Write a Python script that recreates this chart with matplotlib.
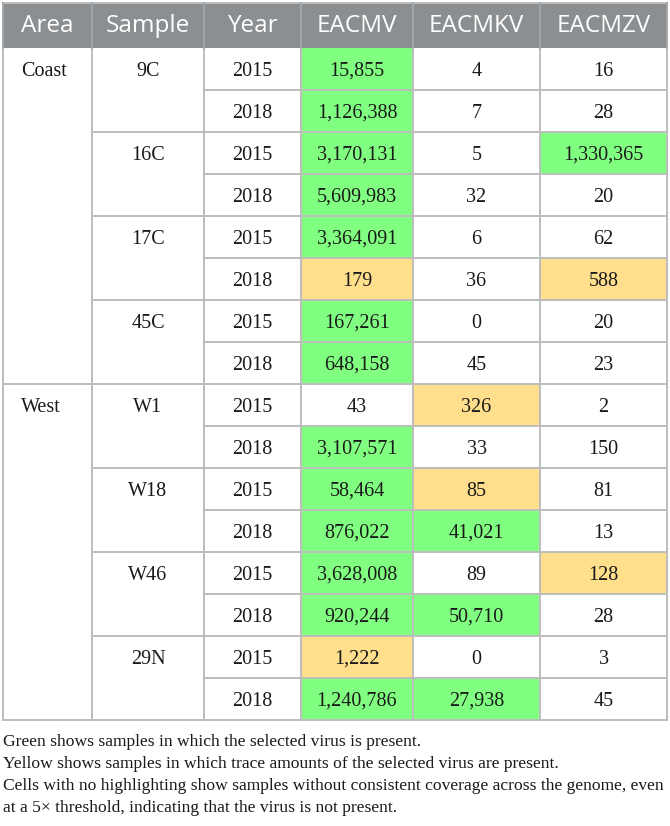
import matplotlib
matplotlib.use("Agg")
import matplotlib.pyplot as plt
from matplotlib.patches import Rectangle

# table data
columns = ["Area", "Sample", "Year", "EACMV", "EACMKV", "EACMZV"]
areas = ["Coast", "West"]
samples = ["9C", "16C", "17C", "45C", "W1", "W18", "W46", "29N"]
years = ["2015", "2018"]

eacmv = [15855, 1126388, 3170131, 5609983, 3364091, 179, 167261, 648158,
         43, 3107571, 58464, 876022, 3628008, 920244, 1222, 1240786]
eacmkv = [4, 7, 5, 32, 6, 36, 0, 45,
          326, 33, 85, 41021, 89, 50710, 0, 27938]
eacmzv = [16, 28, 1330365, 20, 62, 588, 20, 23,
          2, 150, 81, 13, 128, 28, 3, 45]

# G = present (green), Y = trace (yellow), blank = not present
eacmv_status = "GGGGGYGG" + " GGGGGYG"
eacmkv_status = "        " + "Y YG G G"
eacmzv_status = "  G  Y  " + "    Y   "

notes = [
    "Green shows samples in which the selected virus is present.",
    "Yellow shows samples in which trace amounts of the selected virus are present.",
    "Cells with no highlighting show samples without consistent coverage across the genome, even",
    "at a 5\u00d7 threshold, indicating that the virus is not present.",
]

# layout (pixels)
col_x = [3, 92, 204, 301, 413, 540, 667]
top, head_bot, row_h = 3, 48, 42
n_rows = len(eacmv)
bottom = head_bot + n_rows * row_h

fill = {"G": "#80ff80", "Y": "#ffdf8c"}
line_c = "#bdbdbd"
head_c = "#8b8f92"
serif = ["Liberation Serif", "DejaVu Serif"]
body_fs = 14.5
txt_c = "#1a1a1a"

fig = plt.figure(figsize=(6.70, 8.26), dpi=100)
ax = fig.add_axes([0, 0, 1, 1])
ax.set_xlim(0, 670)
ax.set_ylim(826, 0)
ax.axis("off")

# header
ax.add_patch(Rectangle((col_x[0], top), col_x[-1] - col_x[0], head_bot - top,
                       facecolor=head_c, edgecolor="none"))
for i, name in enumerate(columns):
    cx = (col_x[i] + col_x[i + 1]) / 2
    ax.text(cx, (top + head_bot) / 2 + 1, name, ha="center", va="center",
            color="white", fontsize=17.5, family="Open Sans")

# value cells
value_cols = [(eacmv, eacmv_status), (eacmkv, eacmkv_status), (eacmzv, eacmzv_status)]
for j, (vals, status) in enumerate(value_cols):
    x0, x1 = col_x[3 + j], col_x[4 + j]
    for r, v in enumerate(vals):
        y0 = head_bot + r * row_h
        if status[r] in fill:
            ax.add_patch(Rectangle((x0, y0), x1 - x0, row_h,
                                   facecolor=fill[status[r]], edgecolor="none"))
        ax.text((x0 + x1) / 2, y0 + row_h / 2 + 2, f"{v:,}", ha="center",
                va="center", fontsize=body_fs, family=serif, color=txt_c)

# year column
for r in range(n_rows):
    y0 = head_bot + r * row_h
    ax.text((col_x[2] + col_x[3]) / 2, y0 + row_h / 2 + 2, years[r % 2],
            ha="center", va="center", fontsize=body_fs, family=serif, color=txt_c)

# sample column
for s, name in enumerate(samples):
    y0 = head_bot + s * 2 * row_h
    ax.text((col_x[1] + col_x[2]) / 2, y0 + row_h / 2 + 2, name,
            ha="center", va="center", fontsize=body_fs, family=serif, color=txt_c)

# area column
for a, name in enumerate(areas):
    y0 = head_bot + a * 8 * row_h
    ax.text(col_x[0] + 18, y0 + row_h / 2 + 2, name,
            ha="left", va="center", fontsize=body_fs, family=serif, color=txt_c)

# grid lines
lw = 1.4
for r in range(1, n_rows):
    y = head_bot + r * row_h
    if r % 8 == 0:
        xs = col_x[0]
    elif r % 2 == 0:
        xs = col_x[1]
    else:
        xs = col_x[2]
    ax.plot([xs, col_x[-1]], [y, y], color=line_c, lw=lw, solid_capstyle="butt")
ax.plot([col_x[0], col_x[-1]], [bottom, bottom], color=line_c, lw=lw)
ax.plot([col_x[0], col_x[-1]], [top, top], color=line_c, lw=lw)
for x in col_x:
    ax.plot([x, x], [head_bot, bottom], color=line_c, lw=lw)
    ax.plot([x, x], [top, head_bot], color="#a3a7aa", lw=lw)

# footnotes
for k, line in enumerate(notes):
    ax.text(col_x[0], 746 + k * 22, line, ha="left", va="baseline",
            fontsize=12.6, family=serif, color=txt_c)

fig.savefig("out.png", dpi=100)
